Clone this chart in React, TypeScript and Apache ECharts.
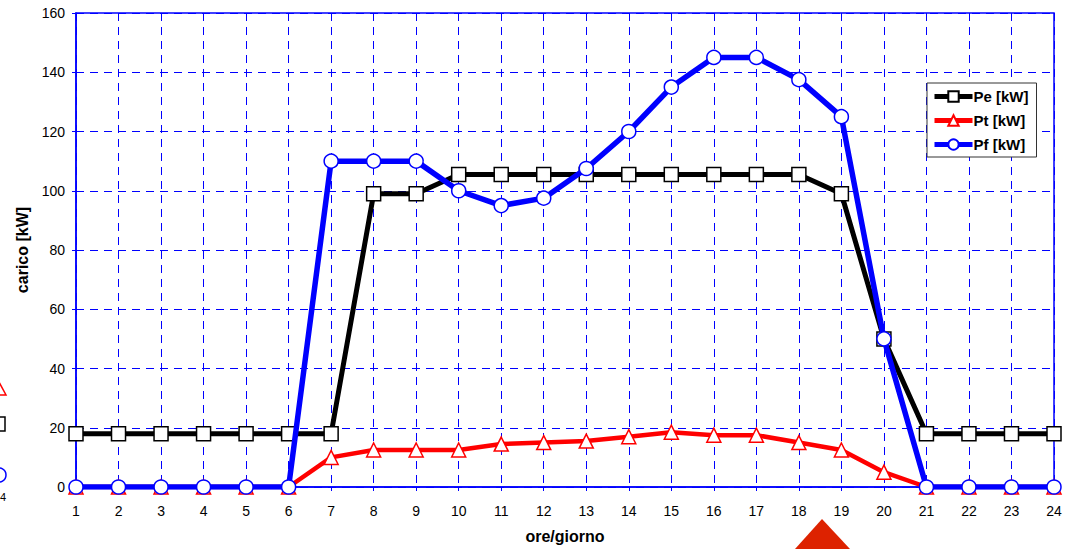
import React, { useEffect, useRef } from "react";
import * as echarts from "echarts";

const hours = ["1","2","3","4","5","6","7","8","9","10","11","12","13","14","15","16","17","18","19","20","21","22","23","24"];
const peValues = [18,18,18,18,18,18,18,99,99,105.5,105.5,105.5,105.5,105.5,105.5,105.5,105.5,105.5,99,50,18,18,18,18];
const ptValues = [0,0,0,0,0,0,10,12.5,12.5,12.5,14.5,15,15.5,17,18.5,17.5,17.5,15,12.5,5,0,0,0,0];
const pfValues = [0,0,0,0,0,0,110,110,110,100,95,97.5,107.5,120,135,145,145,137.5,125,50,0,0,0,0];
const seriesNames = ["Pe [kW]", "Pt [kW]", "Pf [kW]"];

const FONT = "'Liberation Sans', Arial, sans-serif";
const BLUE = "#0000ff";

export default function App() {
  const ref = useRef<HTMLDivElement>(null);
  useEffect(() => {
    if (!ref.current) return;
    const chart = echarts.init(ref.current, null, { renderer: "svg" });
    chart.setOption({
      animation: false,
      backgroundColor: "#ffffff",
      textStyle: { fontFamily: FONT },
      grid: { left: 76, right: 23, top: 13, bottom: 61, containLabel: false, show: true, borderColor: BLUE, borderWidth: 1.5 },
      legend: {
        orient: "vertical",
        left: 927,
        top: 83,
        itemWidth: 38,
        itemHeight: 13,
        itemGap: 9,
        padding: [6, 8, 5, 5],
        backgroundColor: "#ffffff",
        borderColor: "#333333",
        borderWidth: 1,
        textStyle: { fontFamily: FONT, fontSize: 15, fontWeight: "bold", color: "#000", padding: [0, 0, 0, -4] },
        data: [
          { name: seriesNames[0], lineStyle: { width: 5, color: "#000" } },
          { name: seriesNames[1], lineStyle: { width: 5, color: "#ff0000" } },
          { name: seriesNames[2], lineStyle: { width: 5, color: BLUE } },
        ],
      },
      xAxis: {
        type: "category",
        data: hours,
        boundaryGap: false,
        name: "ore/giorno",
        nameLocation: "middle",
        nameGap: 41,
        nameTextStyle: { fontFamily: FONT, fontSize: 16, fontWeight: "bold", color: "#000" },
        axisLine: { lineStyle: { color: BLUE, width: 1.5 } },
        axisTick: { show: true, length: 4, lineStyle: { color: BLUE } },
        axisLabel: { fontFamily: FONT, fontSize: 14, color: "#000", margin: 17 },
        splitLine: { show: true, lineStyle: { color: BLUE, type: [8, 6], width: 1 } },
      },
      yAxis: {
        type: "value",
        min: 0,
        max: 160,
        interval: 20,
        name: "carico [kW]",
        nameLocation: "middle",
        nameGap: 41,
        nameTextStyle: { fontFamily: FONT, fontSize: 16, fontWeight: "bold", color: "#000" },
        axisLine: { show: true, lineStyle: { color: BLUE, width: 1.5 } },
        axisTick: { show: true, length: 4, lineStyle: { color: BLUE } },
        axisLabel: { fontFamily: FONT, fontSize: 14, color: "#000", margin: 11 },
        splitLine: { show: true, lineStyle: { color: BLUE, type: [8, 6], width: 1 } },
      },
      series: [
        {
          name: seriesNames[0],
          type: "line",
          data: peValues,
          symbol: "rect",
          symbolSize: 14,
          lineStyle: { color: "#000", width: 5 },
          itemStyle: { color: "#fff", borderColor: "#000", borderWidth: 1.5 },
          z: 2,
        },
        {
          name: seriesNames[1],
          type: "line",
          data: ptValues,
          symbol: "triangle",
          symbolSize: 14,
          lineStyle: { color: "#ff0000", width: 4.5 },
          itemStyle: { color: "#fff", borderColor: "#ff0000", borderWidth: 1.5 },
          z: 3,
        },
        {
          name: seriesNames[2],
          type: "line",
          data: pfValues,
          symbol: "circle",
          symbolSize: 14,
          lineStyle: { color: BLUE, width: 5.5 },
          itemStyle: { color: "#fff", borderColor: BLUE, borderWidth: 1.5 },
          z: 4,
        },
      ],
      graphic: [
        { type: "polygon", shape: { points: [[-8, 395], [-1, 382], [6, 395]] }, style: { fill: "none", stroke: "#ff0000", lineWidth: 1.5 } },
        { type: "rect", shape: { x: -9, y: 417, width: 14, height: 14 }, style: { fill: "#fff", stroke: "#000", lineWidth: 1.5 } },
        { type: "circle", shape: { cx: -1, cy: 475, r: 7 }, style: { fill: "#fff", stroke: BLUE, lineWidth: 1.5 } },
        { type: "text", x: 0, y: 491, style: { text: "4", fontFamily: FONT, fontSize: 11, fill: "#000" } },
        { type: "polygon", shape: { points: [[795, 549], [822, 519], [850, 549]] }, style: { fill: "#dd2200", stroke: "none" } },
      ],
    });
    return () => chart.dispose();
  }, []);
  return <div ref={ref} style={{ position: "fixed", left: 0, top: 0, width: 1077, height: 549 }} />;
}
